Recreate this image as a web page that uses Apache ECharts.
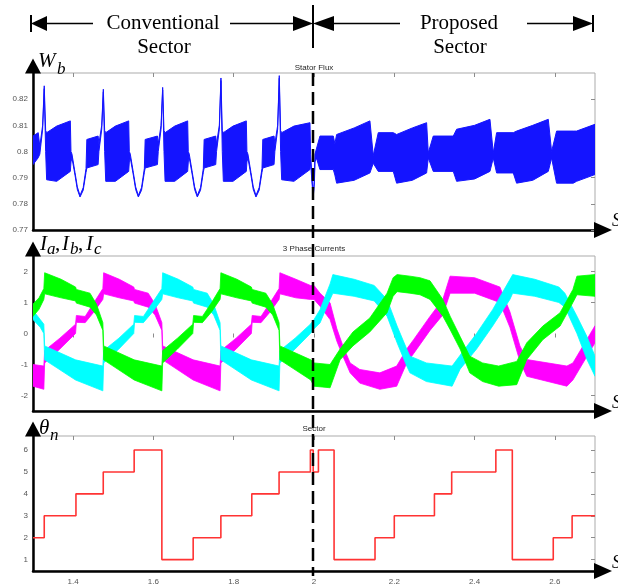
<!DOCTYPE html>
<html><head><meta charset="utf-8">
<script src="https://cdn.jsdelivr.net/npm/echarts@6/dist/echarts.min.js"></script>
<style>html,body{margin:0;padding:0;background:#fff}#c{width:618px;height:588px}</style>
</head><body><div id="c"></div>
<script>
// ---------- tick labels ----------
const xTicks = [1.4, 1.6, 1.8, 2, 2.2, 2.4, 2.6];
const fluxTicks = [0.77, 0.78, 0.79, 0.8, 0.81, 0.82];
const currentTicks = [-2, -1, 0, 1, 2];
const sectorTicks = [1, 2, 3, 4, 5, 6];

// ---------- Stator flux envelope (upper / lower edge of the ripple band) ----------
const fluxT = [1.300,1.313,1.317,1.324,1.328,1.3315,1.334,1.359,1.393,1.3946,1.3971,1.4046,1.4104,1.4171,1.4251,1.4321,1.4341,
 1.4622,1.4642,1.4712,1.4752,1.4785,1.4812,1.5052,1.5384,1.5399,1.5424,1.5499,1.5557,1.5624,1.5704,1.5774,1.5794,
 1.6100,1.6120,1.6190,1.6230,1.6263,1.6290,1.6530,1.6853,1.6868,1.6893,1.6968,1.7026,1.7093,1.7173,1.7243,1.7263,
 1.7552,1.7572,1.7642,1.7682,1.7715,1.7742,1.7982,1.8314,1.8329,1.8354,1.8429,1.8487,1.8554,1.8634,1.8704,1.8724,
 1.9005,1.9025,1.9095,1.9135,1.9168,1.9195,1.9500,1.9900,1.9915,1.9950,1.9982,2.0010,2.0024,2.0060,2.0148,2.0481,
 2.0520,2.0564,2.1000,2.1393,2.1476,2.1601,2.1975,2.2058,2.2450,2.2805,2.2847,2.2971,2.3470,2.3553,2.4000,2.4383,
 2.4466,2.4549,2.4964,2.5047,2.5450,2.5836,2.5919,2.6043,2.6458,2.6541,2.7000];
const fluxHi = [0.8059,0.8072,0.8020,0.8100,0.8251,0.8080,0.8072,0.8097,0.8117,0.8000,0.7990,0.7920,0.7865,0.7832,0.7862,0.7935,0.8046,
 0.8059,0.8030,0.8100,0.8238,0.8080,0.8072,0.8097,0.8117,0.8000,0.7990,0.7920,0.7865,0.7832,0.7862,0.7935,0.8046,
 0.8059,0.8030,0.8100,0.8245,0.8080,0.8072,0.8097,0.8117,0.8000,0.7990,0.7920,0.7865,0.7832,0.7862,0.7935,0.8046,
 0.8059,0.8030,0.8100,0.8281,0.8080,0.8072,0.8097,0.8117,0.8000,0.7990,0.7920,0.7865,0.7832,0.7862,0.7935,0.8046,
 0.8059,0.8030,0.8100,0.8290,0.8080,0.8072,0.8097,0.8110,0.7990,0.7900,0.7832,0.7900,0.7990,0.8010,0.8059,0.8059,
 0.8030,0.8065,0.8090,0.8117,0.7985,0.8072,0.8072,0.8065,0.8090,0.8110,0.7995,0.8059,0.8059,0.8085,0.8100,0.8123,
 0.7995,0.8072,0.8072,0.8078,0.8100,0.8123,0.8000,0.8078,0.8078,0.8078,0.8104];
const fluxLo = [0.7950,0.7976,0.7990,0.8085,0.8240,0.8000,0.7892,0.7886,0.7924,0.7960,0.7975,0.7910,0.7855,0.7826,0.7852,0.7920,0.7937,
 0.7950,0.8000,0.8085,0.8228,0.8000,0.7886,0.7886,0.7924,0.7960,0.7975,0.7910,0.7855,0.7826,0.7852,0.7920,0.7937,
 0.7950,0.8000,0.8085,0.8235,0.8000,0.7886,0.7886,0.7924,0.7960,0.7975,0.7910,0.7855,0.7826,0.7852,0.7920,0.7937,
 0.7950,0.8000,0.8085,0.8271,0.8000,0.7886,0.7886,0.7924,0.7960,0.7975,0.7910,0.7855,0.7826,0.7852,0.7920,0.7937,
 0.7950,0.8000,0.8085,0.8280,0.8000,0.7892,0.7886,0.7931,0.7960,0.7880,0.7826,0.7880,0.7960,0.7975,0.7931,0.7931,
 0.7910,0.7879,0.7890,0.7918,0.7955,0.7924,0.7924,0.7879,0.7890,0.7918,0.7975,0.7924,0.7924,0.7886,0.7895,0.7924,
 0.7975,0.7918,0.7918,0.7879,0.7890,0.7924,0.7975,0.7879,0.7879,0.7886,0.7912];

// ---------- 3 phase currents: upper / lower edges of each noisy band ----------
const greenT  = [1.300,1.315,1.327,1.329,1.370,1.406,1.408,1.442,1.458,1.474,1.476,1.552,1.621,1.623,1.660,1.698,1.700,1.722,1.745,1.766,1.768,1.808,1.844,1.846,1.880,1.897,1.913,1.915,1.992,2.000,
 2.040,2.065,2.097,2.139,2.182,2.197,2.207,2.239,2.264,2.289,2.321,2.339,2.364,2.388,2.420,2.460,2.505,2.530,2.570,2.613,2.645,2.655,2.700];
const greenHi = [0.95,1.15,1.45,1.96,1.75,1.50,1.42,1.30,0.95,0.35,-0.40,-0.85,-1.05,-0.55,-0.15,0.30,0.58,0.55,1.00,1.45,1.96,1.75,1.50,1.42,1.30,0.95,0.35,-0.40,-0.85,-0.95,
 -1.00,-0.50,0.05,0.50,1.30,1.80,1.90,1.85,1.80,1.70,1.10,0.56,-0.10,-0.73,-0.95,-1.05,-0.90,-0.30,0.24,0.67,1.42,1.85,1.90];
const greenLo = [0.55,0.78,1.10,1.28,1.15,1.05,0.98,0.85,0.60,0.10,-0.85,-1.50,-1.85,-0.95,-0.50,0.00,0.36,0.35,0.70,1.10,1.28,1.15,1.05,0.98,0.85,0.60,0.10,-0.85,-1.50,-1.70,
 -1.75,-0.85,-0.40,0.05,0.67,1.20,1.35,1.30,1.25,1.10,0.56,0.13,-0.50,-1.27,-1.55,-1.70,-1.65,-0.84,-0.20,0.24,1.00,1.25,1.20];

const magentaT  = [1.300,1.327,1.329,1.367,1.406,1.408,1.430,1.452,1.474,1.476,1.515,1.551,1.553,1.587,1.604,1.621,1.623,1.699,1.766,1.768,1.806,1.844,1.846,1.868,1.891,1.913,1.915,1.955,1.991,2.000,
 2.015,2.040,2.057,2.072,2.090,2.114,2.164,2.206,2.231,2.248,2.289,2.321,2.339,2.400,2.463,2.488,2.513,2.530,2.630,2.645,2.700];
const magentaHi = [-1.00,-1.05,-0.55,-0.15,0.30,0.58,0.55,1.00,1.45,1.96,1.75,1.50,1.42,1.30,0.95,0.35,-0.40,-0.85,-1.05,-0.55,-0.15,0.30,0.58,0.55,1.00,1.45,1.96,1.75,1.55,1.55,
 1.30,0.99,0.15,-0.40,-0.95,-1.16,-1.27,-1.05,-0.50,-0.20,0.55,1.10,1.85,1.80,1.50,0.70,-0.40,-0.84,-1.05,-0.95,0.25];
const magentaLo = [-1.70,-1.80,-0.95,-0.50,0.00,0.36,0.35,0.70,1.10,1.28,1.15,1.05,0.98,0.85,0.60,0.10,-0.85,-1.50,-1.85,-0.95,-0.50,0.00,0.36,0.35,0.70,1.10,1.28,1.15,1.10,1.10,
 0.88,0.45,-0.25,-0.73,-1.27,-1.60,-1.80,-1.70,-0.95,-0.65,0.10,0.60,1.30,1.30,1.00,0.20,-0.90,-1.38,-1.70,-1.50,-0.30];

const cyanT  = [1.300,1.318,1.327,1.329,1.406,1.474,1.476,1.514,1.551,1.553,1.575,1.598,1.621,1.623,1.662,1.698,1.700,1.734,1.750,1.766,1.768,1.844,1.913,1.915,1.953,1.991,2.000,
 2.015,2.040,2.047,2.100,2.150,2.182,2.207,2.231,2.239,2.280,2.344,2.364,2.405,2.445,2.488,2.495,2.550,2.610,2.625,2.655,2.680,2.700];
const cyanHi = [0.75,0.45,0.30,-0.40,-0.85,-1.05,-0.55,-0.15,0.30,0.58,0.55,1.00,1.45,1.96,1.75,1.50,1.42,1.30,0.95,0.35,-0.40,-0.85,-1.05,-0.55,-0.15,0.30,0.45,
 0.77,1.60,1.90,1.75,1.55,1.10,0.24,-0.50,-0.73,-0.95,-1.05,-0.70,0.00,0.77,1.74,1.90,1.75,1.50,1.30,0.56,-0.10,-0.73];
const cyanLo = [0.45,0.20,0.00,-0.85,-1.50,-1.85,-0.95,-0.50,0.00,0.36,0.35,0.70,1.10,1.28,1.15,1.05,0.98,0.85,0.60,0.10,-0.85,-1.50,-1.85,-0.95,-0.50,0.00,0.15,
 0.34,1.10,1.30,1.20,1.05,0.56,-0.30,-1.05,-1.27,-1.55,-1.70,-1.15,-0.50,0.24,1.10,1.30,1.20,1.00,0.85,0.00,-0.84,-1.38];

// ---------- Sector number (value holds from each time until the next) ----------
const sectorT = [1.300,1.328,1.407,1.475,1.552,1.621,1.699,1.768,1.845,1.913,1.991,1.998,2.011,2.050,2.152,2.200,2.300,2.343,2.453,2.494,2.596,2.643,2.700];
const sectorV = [2,3,4,5,6,1,2,3,4,5,6,5,6,1,2,3,4,5,6,1,2,3,3];

// ---------- chart ----------
const chart = echarts.init(document.getElementById('c'), null, {renderer: 'canvas'});
const GRAY = '#8c8c8c', LBL = '#555';
const grids = [
  {left: 33, top: 73, width: 562, height: 157},
  {left: 33, top: 256, width: 562, height: 155},
  {left: 33, top: 436, width: 562, height: 135}
].map(g => Object.assign(g, {show: true, borderColor: '#ababab', borderWidth: 1, backgroundColor: 'transparent'}));
const yRanges = [[0.77, 0.83, fluxTicks], [-2.5, 2.5, currentTicks], [0.48, 6.64, sectorTicks]];

const xAxis = [], yAxis = [];
for (let gi = 0; gi < 3; gi++) {
  xAxis.push({type: 'value', gridIndex: gi, min: 1.3, max: 2.7, position: 'bottom',
    axisLine: {show: true, onZero: false, lineStyle: {color: '#000', width: 2.5},
      symbol: ['none', 'triangle'], symbolSize: [16, 18], symbolOffset: [0, 8]},
    axisTick: {show: false},
    axisLabel: gi === 2 ? {show: true, customValues: xTicks, color: LBL, fontSize: 8, fontFamily: 'Liberation Sans', margin: 7} : {show: false},
    splitLine: {show: false}});
  xAxis.push({type: 'value', gridIndex: gi, min: 1.3, max: 2.7, position: 'top',
    axisLine: {show: false},
    axisTick: {show: true, inside: true, length: 4, customValues: xTicks, lineStyle: {color: GRAY}},
    axisLabel: {show: false}, splitLine: {show: false}});
  const [mn, mx, yt] = yRanges[gi];
  yAxis.push({type: 'value', gridIndex: gi, min: mn, max: mx, position: 'left',
    axisLine: {show: true, onZero: false, lineStyle: {color: '#000', width: 2.5},
      symbol: ['none', 'triangle'], symbolSize: [16, 15], symbolOffset: [0, 7]},
    axisTick: {show: false},
    axisLabel: {show: true, customValues: yt, color: LBL, fontSize: 8, fontFamily: 'Liberation Sans', margin: 5},
    splitLine: {show: false}});
  yAxis.push({type: 'value', gridIndex: gi, min: mn, max: mx, position: 'right',
    axisLine: {show: false},
    axisTick: {show: true, inside: true, length: 4, customValues: yt, lineStyle: {color: GRAY}},
    axisLabel: {show: false}, splitLine: {show: false}});
}

function band(name, T, HI, LO, xi, yi, color, lw) {
  return {type: 'custom', name, xAxisIndex: xi, yAxisIndex: yi, clip: true,
    data: T.map((t, i) => [t, HI[i], LO[i]]), encode: {x: 0, y: [1, 2]},
    renderItem: function (params, api) {
      if (params.dataIndex !== 0) return null;
      const pts = [];
      for (let i = 0; i < T.length; i++) pts.push(api.coord([T[i], HI[i]]));
      for (let i = T.length - 1; i >= 0; i--) pts.push(api.coord([T[i], LO[i]]));
      return {type: 'polygon', shape: {points: pts}, style: {fill: color, stroke: color, lineWidth: lw}};
    }};
}

function txt(x, y, s, font, align) {
  return {type: 'text', x, y, z: 100, style: {text: s, font, fill: '#000', align: align || 'left', textAlign: align || 'left', verticalAlign: 'middle', textVerticalAlign: 'middle'}};
}
function ln(x1, y1, x2, y2, w, dash) {
  return {type: 'line', z: 100, shape: {x1, y1, x2, y2}, style: {stroke: '#000', lineWidth: w, lineDash: dash || null}};
}
function tri(p) { return {type: 'polygon', z: 100, shape: {points: p}, style: {fill: '#000'}}; }

const HF = '21px "Liberation Serif"';
const MI = 'italic 21px "Liberation Serif"', SI = 'italic 17px "Liberation Serif"';
const TF = '8px "Liberation Sans"';
const graphic = [
  // header
  ln(31, 15, 31, 32, 2), tri([[31, 23.5], [47, 16], [47, 31]]), ln(47, 23.5, 93, 23.5, 1.5),
  txt(163, 23.4, 'Conventional', HF, 'center'), txt(164, 47.4, 'Sector', HF, 'center'),
  ln(230, 23.5, 294, 23.5, 1.5), tri([[313, 23.5], [293, 16], [293, 31]]),
  tri([[313, 23.5], [334, 16], [334, 31]]), ln(333, 23.5, 400, 23.5, 1.5),
  ln(313, 5, 313, 48, 2),
  txt(459, 23.4, 'Proposed', HF, 'center'), txt(460, 47.4, 'Sector', HF, 'center'),
  ln(527, 23.5, 574, 23.5, 1.5), tri([[593, 23.5], [573, 16], [573, 31]]), ln(593, 15, 593, 32, 2),
  // dashed switch line
  ln(313, 73, 313, 576, 2.5, [13, 6]),
  // panel titles
  {type: 'text', x: 314, y: 67.5, z: 100, style: {text: 'Stator Flux', font: TF, fill: '#262626', align: 'center', textAlign: 'center', verticalAlign: 'middle', textVerticalAlign: 'middle'}},
  {type: 'text', x: 314, y: 248.5, z: 100, style: {text: '3 Phase Currents', font: TF, fill: '#262626', align: 'center', textAlign: 'center', verticalAlign: 'middle', textVerticalAlign: 'middle'}},
  {type: 'text', x: 314, y: 429, z: 100, style: {text: 'Sector', font: TF, fill: '#262626', align: 'center', textAlign: 'center', verticalAlign: 'middle', textVerticalAlign: 'middle'}},
  // axis symbols
  txt(38, 61.4, 'W', MI), txt(57, 69.8, 'b', SI),
  txt(40, 244.6, 'I', MI), txt(47, 249.8, 'a', SI), txt(55, 244.6, ',', HF),
  txt(62, 244.6, 'I', MI), txt(70, 249.8, 'b', SI), txt(78, 244.6, ',', HF),
  txt(86, 244.6, 'I', MI), txt(94, 249.8, 'c', SI),
  txt(39, 428.6, 'θ', MI), txt(50, 435.3, 'n', SI),
  txt(612, 221, 'S', 'italic 18px "Liberation Serif"'),
  txt(612, 403, 'S', 'italic 18px "Liberation Serif"'),
  txt(612, 563, 'S', 'italic 18px "Liberation Serif"')
];

chart.setOption({
  animation: false,
  backgroundColor: '#fff',
  grid: grids,
  xAxis, yAxis,
  series: [
    band('Stator Flux', fluxT, fluxHi, fluxLo, 0, 0, '#1414ff', 1),
    band('Ib', magentaT, magentaHi, magentaLo, 2, 2, '#ff00ff', 0.8),
    band('Ic', cyanT, cyanHi, cyanLo, 2, 2, '#00ffff', 0.8),
    band('Ia', greenT, greenHi, greenLo, 2, 2, '#00ff00', 0.8),
    {type: 'line', name: 'Sector', xAxisIndex: 4, yAxisIndex: 4, step: 'end', symbol: 'none',
      data: sectorT.map((t, i) => [t, sectorV[i]]), lineStyle: {color: '#ff3333', width: 1.6}}
  ],
  graphic
});
</script></body></html>
